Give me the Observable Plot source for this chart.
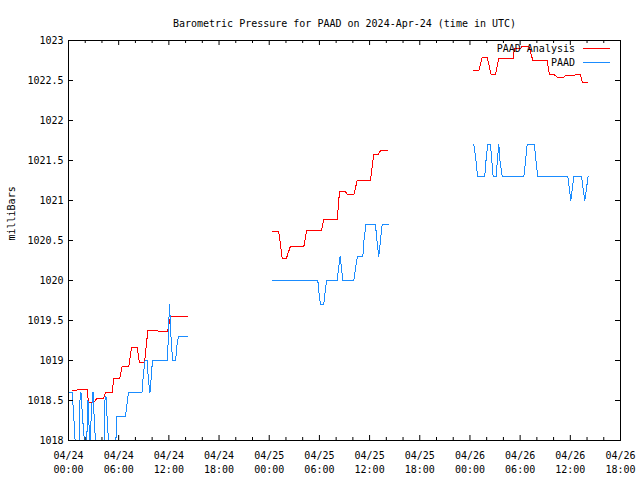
<!DOCTYPE html>
<html>
<head>
<meta charset="utf-8">
<script src="https://cdn.jsdelivr.net/npm/d3@7"></script>
<script src="https://cdn.jsdelivr.net/npm/@observablehq/plot@0.6"></script>
<style>
  html, body { margin: 0; padding: 0; background: #fff; }
</style>
</head>
<body>
<div id="chart"></div>
<script>
// ---------- data ----------
const title = "Barometric Pressure for PAAD on 2024-Apr-24 (time in UTC)";
const yLabel = "milliBars";
const seriesNames = ["PAAD Analysis", "PAAD"];
const seriesColors = ["#ff0000", "#1a8cff"];
const startUTC = "2024-04-24T00:00:00Z";
const endHour = 66;

const yTicks = [1018, 1018.5, 1019, 1019.5, 1020, 1020.5, 1021, 1021.5, 1022, 1022.5, 1023];
const yTickLabels = ["1018", "1018.5", "1019", "1019.5", "1020", "1020.5", "1021", "1021.5", "1022", "1022.5", "1023"];
const xTickHours = [0, 6, 12, 18, 24, 30, 36, 42, 48, 54, 60, 66];
const xTickLabels = ["04/24\n00:00", "04/24\n06:00", "04/24\n12:00", "04/24\n18:00",
                     "04/25\n00:00", "04/25\n06:00", "04/25\n12:00", "04/25\n18:00",
                     "04/26\n00:00", "04/26\n06:00", "04/26\n12:00", "04/26\n18:00"];
const xMinorTickHours = [2, 4, 8, 10, 14, 16, 20, 22, 26, 28, 32, 34, 38, 40, 44, 46, 50, 52, 56, 58, 62, 64];

// hours since 2024-04-24 00:00 UTC (null = gap)
const analysisHours = [
  0.44, 1.52, 2.24, 2.39, 2.99, 3.43, 4.22, 4.42, 5.22, 5.42, 6.13, 6.42, 7.21, 7.53, 8.21, 8.49, 9.09, 9.48, 10.4, 11.0, 11.84, 12.2, 14.19,
  null,
  24.43, 25.14, 25.55, 26.06, 26.54, 27.26, 28.13, 28.46, 30.25, 30.52, 32.13, 32.4, 33.12, 33.36, 34.11, 34.52, 36.11, 36.5, 37.06, 37.3, 38.22,
  null,
  48.46, 49.06, 49.46, 50.06, 50.54, 51.05, 51.45, 52.25, 52.49, 53.17, 53.32, 54.04, 54.28, 55.04, 55.52, 57.23, 57.51, 58.11, 58.43, 59.22, 59.42, 60.5, 60.73, 61.21, 61.45, 62.13
];
const analysisValues = [
  1018.62, 1018.64, 1018.64, 1018.47, 1018.47, 1018.53, 1018.53, 1018.60, 1018.60, 1018.78, 1018.78, 1018.93, 1018.93, 1019.16, 1019.16, 1018.97, 1018.97, 1019.37, 1019.38, 1019.36, 1019.36, 1019.55, 1019.55,
  null,
  1020.61, 1020.61, 1020.28, 1020.28, 1020.43, 1020.43, 1020.42, 1020.62, 1020.62, 1020.76, 1020.76, 1021.11, 1021.11, 1021.07, 1021.07, 1021.25, 1021.25, 1021.58, 1021.58, 1021.62, 1021.62,
  null,
  1022.62, 1022.62, 1022.79, 1022.79, 1022.57, 1022.57, 1022.78, 1022.78, 1022.77, 1022.77, 1022.90, 1022.90, 1022.93, 1022.93, 1022.75, 1022.75, 1022.57, 1022.57, 1022.54, 1022.54, 1022.56, 1022.56, 1022.58, 1022.58, 1022.47, 1022.47
];

const obsHours = [
  0.12, 0.44, 0.6, 0.84, 1.26, 1.37, 1.49, 1.67, 1.97, 2.15, 2.33, 2.45, 2.57, 2.75, 2.93, 3.11, 3.29, 4.24, 4.36, 4.48, 4.66, 4.84, 5.62, 5.8, 6.81, 6.99, 7.17, 8.79, 8.97, 9.15, 9.39, 9.56, 9.74, 9.86, 10.04, 11.84, 11.96, 12.08, 12.25, 12.44, 12.8, 12.98, 13.15, 14.19,
  null,
  24.43, 29.81, 29.95, 30.13, 30.52, 30.67, 30.85, 32.13, 32.29, 32.47, 32.64, 32.8, 34.11, 34.31, 34.55, 35.19, 35.33, 35.57, 36.7, 36.88, 37.1, 37.3, 37.5, 38.22,
  null,
  48.46, 48.6, 48.78, 48.9, 49.77, 49.92, 50.13, 50.45, 50.61, 50.77, 51.13, 51.28, 51.45, 51.59, 51.85, 54.44, 54.65, 54.84, 55.71, 55.89, 56.11, 59.7, 59.88, 60.06, 60.24, 60.42, 61.34, 61.53, 61.73, 61.93, 62.13
];
const obsValues = [
  1018.6, 1018.6, 1018.35, 1017.9, 1017.9, 1018.5, 1018.6, 1018.3, 1017.9, 1017.9, 1018.5, 1018.2, 1017.9, 1018.4, 1018.6, 1018.2, 1017.9, 1017.9, 1018.5, 1018.55, 1018.2, 1017.9, 1017.9, 1018.3, 1018.3, 1018.45, 1018.6, 1018.6, 1018.85, 1019.0, 1019.0, 1018.75, 1018.6, 1018.75, 1019.0, 1019.0, 1019.4, 1019.7, 1019.3, 1019.0, 1019.0, 1019.2, 1019.3, 1019.3,
  null,
  1020.0, 1020.0, 1019.85, 1019.7, 1019.7, 1019.85, 1020.0, 1020.0, 1020.15, 1020.3, 1020.15, 1020.0, 1020.0, 1020.15, 1020.3, 1020.3, 1020.5, 1020.7, 1020.7, 1020.5, 1020.3, 1020.5, 1020.7, 1020.7,
  null,
  1021.7, 1021.6, 1021.45, 1021.3, 1021.3, 1021.5, 1021.7, 1021.7, 1021.5, 1021.3, 1021.3, 1021.5, 1021.7, 1021.5, 1021.3, 1021.3, 1021.5, 1021.7, 1021.7, 1021.5, 1021.3, 1021.3, 1021.15, 1021.0, 1021.15, 1021.3, 1021.3, 1021.15, 1021.0, 1021.15, 1021.3
];

// ---------- build ----------
const FONT = "'DejaVu Sans Mono', 'Liberation Mono', monospace";
const FS = 10;
const t0 = new Date(startUTC).getTime();
const toDate = h => (h == null ? null : new Date(t0 + h * 3600e3));

const analysis = analysisHours.map((h, i) => ({t: toDate(h), v: analysisValues[i]}));
const obs = obsHours.map((h, i) => ({t: toDate(h), v: obsValues[i]}));
const xMajor = xTickHours.map(toDate);
const xMinor = xMinorTickHours.map(toDate);

const W = 640, H = 480;
const mL = 68, mR = 20, mT = 40, mB = 40;
const fw = W - mL - mR, fh = H - mT - mB;

function legendMark(index, scales, values, dims) {
  const {width, marginRight, marginTop} = dims;
  const g = d3.create("svg:g")
    .attr("font-family", FONT)
    .attr("font-size", FS)
    .attr("fill", "black");
  seriesNames.forEach((name, i) => {
    const y = marginTop + 8.5 + i * 14;
    g.append("text")
      .attr("x", width - marginRight - 45)
      .attr("y", y)
      .attr("dy", "0.35em")
      .attr("text-anchor", "end")
      .text(name);
    g.append("line")
      .attr("x1", width - marginRight - 37)
      .attr("x2", width - marginRight - 10)
      .attr("y1", y).attr("y2", y)
      .attr("stroke", seriesColors[i])
      .attr("stroke-width", 1)
      .attr("shape-rendering", "crispEdges");
  });
  return g.node();
}

const chart = Plot.plot({
  width: W,
  height: H,
  marginLeft: mL,
  marginRight: mR,
  marginTop: mT,
  marginBottom: mB,
  style: {fontFamily: FONT, fontSize: FS + "px", background: "white", color: "black"},
  x: {type: "utc", domain: [toDate(0), toDate(endHour)]},
  y: {domain: [yTicks[0], yTicks[yTicks.length - 1]]},
  marks: [
    Plot.line(analysis, {x: "t", y: "v", stroke: seriesColors[0], strokeWidth: 1, clip: true, shapeRendering: "crispEdges"}),
    Plot.line(obs, {x: "t", y: "v", stroke: seriesColors[1], strokeWidth: 1, clip: true, shapeRendering: "crispEdges"}),
    Plot.frame({stroke: "black", strokeWidth: 1}),
    // inward ticks (bottom / top / left / right)
    Plot.ruleX(xMajor, {x: d => d, insetTop: fh - 5, stroke: "black"}),
    Plot.ruleX(xMajor, {x: d => d, insetBottom: fh - 5, stroke: "black"}),
    Plot.ruleX(xMinor, {x: d => d, insetTop: fh - 3, stroke: "black"}),
    Plot.ruleX(xMinor, {x: d => d, insetBottom: fh - 3, stroke: "black"}),
    Plot.ruleY(yTicks, {y: d => d, insetRight: fw - 5, stroke: "black"}),
    Plot.ruleY(yTicks, {y: d => d, insetLeft: fw - 5, stroke: "black"}),
    Plot.axisX({
      ticks: xMajor,
      tickFormat: d => xTickLabels[xTickHours.indexOf(Math.round((d - t0) / 3600e3))],
      tickSize: 0,
      tickPadding: 9,
      lineHeight: 1.4,
      label: null,
      fontSize: FS
    }),
    Plot.axisY({
      ticks: yTicks,
      tickFormat: d => yTickLabels[yTicks.indexOf(d)],
      tickSize: 0,
      tickPadding: 5,
      label: null,
      fontSize: FS
    }),
    Plot.text([title], {text: d => d, frameAnchor: "top", dy: -21, fontSize: FS, fill: "black"}),
    Plot.text([yLabel], {text: d => d, frameAnchor: "left", dx: -57, rotate: -90, fontSize: FS, fill: "black"}),
    legendMark
  ]
});

document.getElementById("chart").appendChild(chart);
</script>
</body>
</html>
